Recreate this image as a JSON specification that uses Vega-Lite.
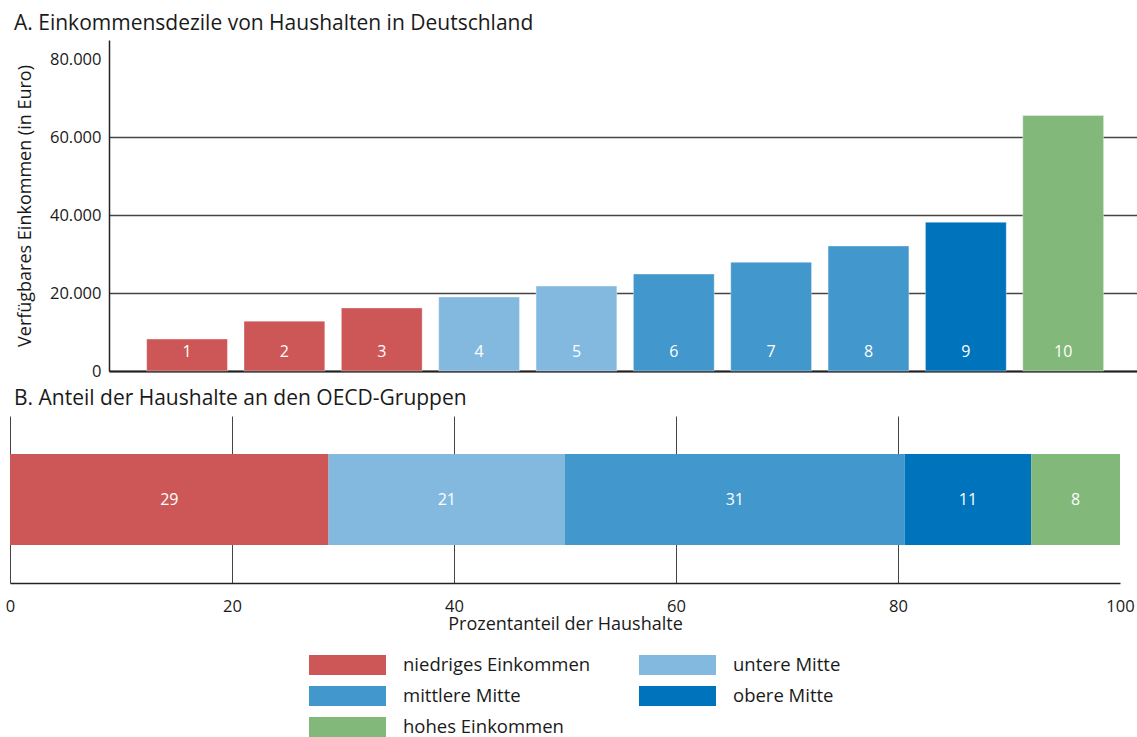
{
  "$schema": "https://vega.github.io/schema/vega-lite/v6.json",
  "padding": {"left": 5, "top": 13, "right": 0, "bottom": 0},
  "background": "white",
  "config": {
    "font": "Open Sans",
    "locale": {"number": {"decimal": ",", "thousands": ".", "grouping": [3], "currency": ["", " €"]}},
    "view": {"stroke": null},
    "axis": {"labelFont": "Open Sans", "titleFont": "Open Sans", "labelColor": "#1a1a1a", "titleColor": "#1a1a1a", "labelFontSize": 16.5, "titleFontSize": 18, "titleFontWeight": "normal"},
    "title": {"font": "Open Sans", "fontSize": 21, "fontWeight": "normal", "color": "#1a1a1a", "anchor": "start"}
  },
  "datasets": {
    "dezile": [
      {"dezil": 1, "einkommen": 8200, "gruppe": "niedriges Einkommen"},
      {"dezil": 2, "einkommen": 12800, "gruppe": "niedriges Einkommen"},
      {"dezil": 3, "einkommen": 16200, "gruppe": "niedriges Einkommen"},
      {"dezil": 4, "einkommen": 19000, "gruppe": "untere Mitte"},
      {"dezil": 5, "einkommen": 21800, "gruppe": "untere Mitte"},
      {"dezil": 6, "einkommen": 24900, "gruppe": "mittlere Mitte"},
      {"dezil": 7, "einkommen": 27900, "gruppe": "mittlere Mitte"},
      {"dezil": 8, "einkommen": 32100, "gruppe": "mittlere Mitte"},
      {"dezil": 9, "einkommen": 38200, "gruppe": "obere Mitte"},
      {"dezil": 10, "einkommen": 65600, "gruppe": "hohes Einkommen"}
    ],
    "anteile": [
      {"ord": 1, "gruppe": "niedriges Einkommen", "anteil": 28.7, "zeile": "OECD"},
      {"ord": 2, "gruppe": "untere Mitte", "anteil": 21.3, "zeile": "OECD"},
      {"ord": 3, "gruppe": "mittlere Mitte", "anteil": 30.6, "zeile": "OECD"},
      {"ord": 4, "gruppe": "obere Mitte", "anteil": 11.4, "zeile": "OECD"},
      {"ord": 5, "gruppe": "hohes Einkommen", "anteil": 8.0, "zeile": "OECD"}
    ]
  },
  "spacing": 8,
  "resolve": {"scale": {"color": "independent"}},
  "vconcat": [
    {
      "width": 1127,
      "height": 331,
      "title": {"text": "A. Einkommensdezile von Haushalten in Deutschland", "frame": "group", "dx": 4, "offset": 6},
      "data": {"name": "dezile"},
      "layer": [
        {
          "mark": {"type": "bar", "stroke": "white", "strokeWidth": 1, "strokeOpacity": 0.35},
          "encoding": {
            "x": {"field": "dezil", "type": "ordinal", "sort": null, "scale": {"range": [99, 1127], "paddingInner": 0.17, "paddingOuter": 0.365, "align": 0.53}, "axis": {"labels": false, "ticks": false, "title": null, "domainColor": "#222", "domainWidth": 2}},
            "y": {"field": "einkommen", "type": "quantitative", "scale": {"domain": [0, 85000], "nice": false}, "axis": {"offset": -99, "values": [0, 20000, 40000, 60000, 80000], "format": ",.0f", "title": "Verfügbares Einkommen  (in Euro)", "ticks": false, "domainColor": "#222", "domainWidth": 1.5, "gridColor": "#444", "gridWidth": 1.5, "gridOpacity": {"condition": {"test": "datum.value == 80000", "value": 0}, "value": 1}, "labelPadding": 8, "titlePadding": 15}},
            "color": {"field": "gruppe", "type": "nominal", "scale": {"domain": ["niedriges Einkommen", "untere Mitte", "mittlere Mitte", "obere Mitte", "hohes Einkommen"], "range": ["#CD5757", "#83B9DF", "#4297CC", "#0073BD", "#82B87A"]}, "legend": null}
          }
        },
        {
          "mark": {"type": "text", "color": "white", "fontSize": 16, "baseline": "middle", "dy": -19},
          "encoding": {
            "x": {"field": "dezil", "type": "ordinal", "sort": null},
            "y": {"datum": 0},
            "text": {"field": "dezil", "type": "nominal"}
          }
        }
      ]
    },
    {
      "width": 1110,
      "height": 167,
      "title": {"text": "B. Anteil der Haushalte an den OECD-Gruppen", "frame": "group", "dx": 4, "offset": 7},
      "data": {"name": "anteile"},
      "transform": [{"stack": "anteil", "groupby": [], "sort": [{"field": "ord", "order": "ascending"}], "as": ["a0", "a1"]}],
      "layer": [
        {
          "mark": {"type": "bar"},
          "encoding": {
            "x": {"field": "a0", "type": "quantitative", "scale": {"domain": [0, 100], "nice": false}, "axis": {"values": [0, 20, 40, 60, 80, 100], "labelFlush": false, "title": "Prozentanteil der Haushalte", "ticks": false, "domainColor": "#222", "domainWidth": 1.5, "gridColor": "#444", "gridWidth": 1, "gridOpacity": {"condition": {"test": "datum.value == 100", "value": 0}, "value": 1}, "labelPadding": 15, "titlePadding": 1}},
            "x2": {"field": "a1"},
            "y": {"field": "zeile", "type": "nominal", "scale": {"paddingInner": 0, "paddingOuter": 0.4176}, "axis": null},
            "color": {"field": "gruppe", "type": "nominal", "scale": {"domain": ["niedriges Einkommen", "untere Mitte", "mittlere Mitte", "obere Mitte", "hohes Einkommen"], "range": ["#CD5757", "#83B9DF", "#4297CC", "#0073BD", "#82B87A"]},
              "legend": {"orient": "none", "legendX": 299, "legendY": 239, "direction": "horizontal", "columns": 2, "title": null, "padding": 0, "symbolType": "M-1,-1L6.7,-1L6.7,1L-1,1Z", "symbolSize": 400, "symbolStrokeWidth": 0, "symbolOpacity": 1, "labelFont": "Open Sans", "labelFontSize": 18.5, "labelColor": "#1a1a1a", "labelOffset": 74, "labelLimit": 400, "rowPadding": 11, "columnPadding": 48}}
          }
        },
        {
          "transform": [{"fold": ["a0", "a1"], "as": ["k", "v"]}, {"aggregate": [{"op": "mean", "field": "v", "as": "mitte"}], "groupby": ["gruppe", "anteil", "zeile"]}],
          "mark": {"type": "text", "color": "white", "fontSize": 16},
          "encoding": {
            "x": {"field": "mitte", "type": "quantitative"},
            "y": {"field": "zeile", "type": "nominal"},
            "text": {"field": "anteil", "type": "quantitative", "format": ".0f"}
          }
        }
      ]
    }
  ]
}
